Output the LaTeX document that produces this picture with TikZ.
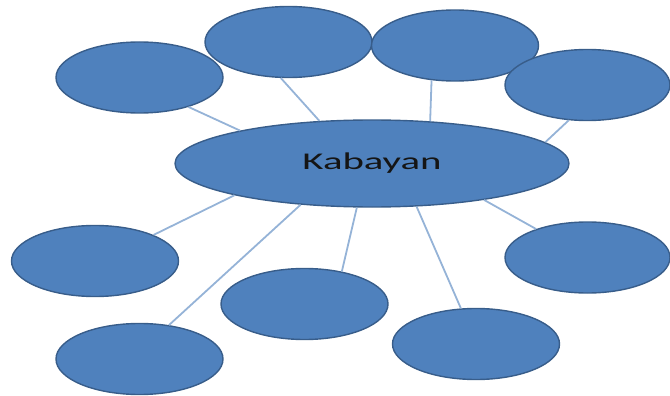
\documentclass[tikz,border=0pt]{standalone}
\usepackage{fontspec}
\setmainfont{Carlito}
\usetikzlibrary{shapes.geometric}
\definecolor{bubblefill}{HTML}{4F81BD}
\definecolor{bubbleedge}{HTML}{385D8A}
\definecolor{spokeblue}{HTML}{95B3D7}

\begin{document}
\begin{tikzpicture} [x=1pt, y=-1pt, bubble/.style={ellipse, draw=bubbleedge, fill=bubblefill, line width=1.4pt, inner sep=0pt, minimum width=167pt, minimum height=71pt}, spoke/.style={draw=spokeblue, line width=1.8pt}]
\useasboundingbox (0,0) rectangle (670,396);
% centre
\node (hub) [bubble, minimum width=394pt, minimum height=87pt] at (372,163.5) {\scalebox{1.7}[1]{\fontsize{24}{24}\selectfont\color[HTML]{151515}Kabayan}};
% upper row
\node (tl) [bubble] at (139.5,77.5) {};
\node (t) [bubble] at (288.5,42) {};
\node (tr) [bubble] at (455,45.5) {};
\node (rt) [bubble, minimum width=165pt] at (587.5,85) {};
% lower row
\node (l) [bubble] at (95,261) {};
\node (rb) [bubble, minimum width=165pt] at (587.5,257.5) {};
\node (bc) [bubble] at (304.5,304) {};
\node (bl) [bubble] at (139.5,359) {};
\node (br) [bubble] at (476,344) {};
\path [spoke]
    (tl.-31) -- (hub.166)
    (t.-102) -- (hub.141)
    (tr.-124) -- (hub.36)
    (rt.-118) -- (hub.7)
    (l.24) -- (hub.193)
    (bl.49) -- (hub.210)
    (bc.41) -- (hub.251)
    (br.113) -- (hub.316)
    (rb.151) -- (hub.342);
\end{tikzpicture}
\end{document}
